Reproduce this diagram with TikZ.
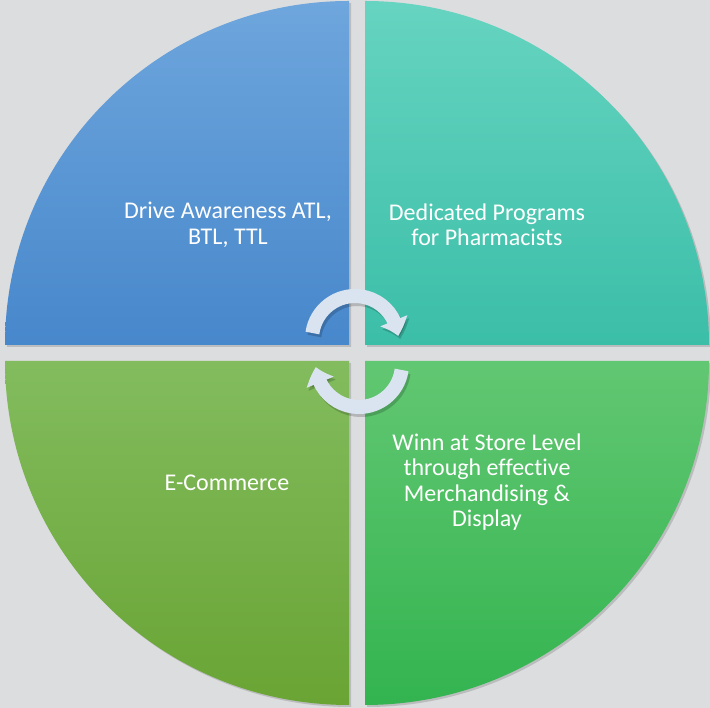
\documentclass[tikz,border=0pt]{standalone}
\usepackage{fontspec}
\setmainfont{Carlito}[Ligatures=NoCommon]
\usetikzlibrary{arrows.meta, bending, positioning, shadows}

\definecolor{bgray}{HTML}{DCDDDF}
\definecolor{blueT}{HTML}{6EA6DD}
\definecolor{blueB}{HTML}{4787CB}
\definecolor{tealT}{HTML}{66D4C0}
\definecolor{tealB}{HTML}{3BBEA8}
\definecolor{oliveT}{HTML}{82BC5E}
\definecolor{oliveB}{HTML}{69A434}
\definecolor{greenT}{HTML}{62C772}
\definecolor{greenB}{HTML}{33B450}
\definecolor{arrowc}{HTML}{DAE4F1}

\begin{document}
\begin{tikzpicture}[
    x=1pt, y=1pt,
    quad/.style={drop shadow={shadow xshift=2pt, shadow yshift=-2pt, opacity=0.35}},
    qtext/.style={text=white, align=center, font=\fontsize{24}{25.5}\selectfont},
    cyc/.style={line width=14pt, draw=arrowc, -{Triangle[width=28pt, length=16pt, bend]}},
    cycshadow/.style={line width=14pt, draw=black, opacity=0.18, -{Triangle[width=28pt, length=16pt, bend]}}
]
\fill[bgray] (0,0) rectangle (710,708);
\useasboundingbox (0,0) rectangle (710,708);

% four quarters
\path[quad, top color=blueT, bottom color=blueB] (349,363) -- ++(-344,0) arc[start angle=180, end angle=90, radius=344] -- cycle;
\path[quad, top color=tealT, bottom color=tealB] (365,363) -- ++(0,344) arc[start angle=90, end angle=0, radius=344] -- cycle;
\path[quad, top color=oliveT, bottom color=oliveB] (349,347) -- ++(-344,0) arc[start angle=180, end angle=270, radius=344] -- cycle;
\path[quad, top color=greenT, bottom color=greenB] (365,347) -- ++(344,0) arc[start angle=0, end angle=-90, radius=344] -- cycle;

\node[qtext] (awareness) at (228,483) {Drive Awareness ATL,\\BTL, TTL};
\node[qtext] (pharma) at (487,483) {Dedicated Programs\\for Pharmacists};
\node[qtext] (ecom) at (227,225) {E-Commerce};
\node[qtext] (store) at (487,226) {Winn at Store Level\\through effective\\Merchandising \&\\Display};

% cycle arrows
\coordinate (topc) at (355,369);
\coordinate (botc) at (359,344);
\draw[cycshadow] ([shift={(2,-3)}]topc) ++(172:43) arc[start angle=172, end angle=4, radius=43];
\draw[cycshadow] ([shift={(2,-3)}]botc) ++(-8:43) arc[start angle=-8, end angle=-176, radius=43];
\draw[cyc] (topc) ++(172:43) arc[start angle=172, end angle=4, radius=43];
\draw[cyc] (botc) ++(-8:43) arc[start angle=-8, end angle=-176, radius=43];
\end{tikzpicture}
\end{document}
